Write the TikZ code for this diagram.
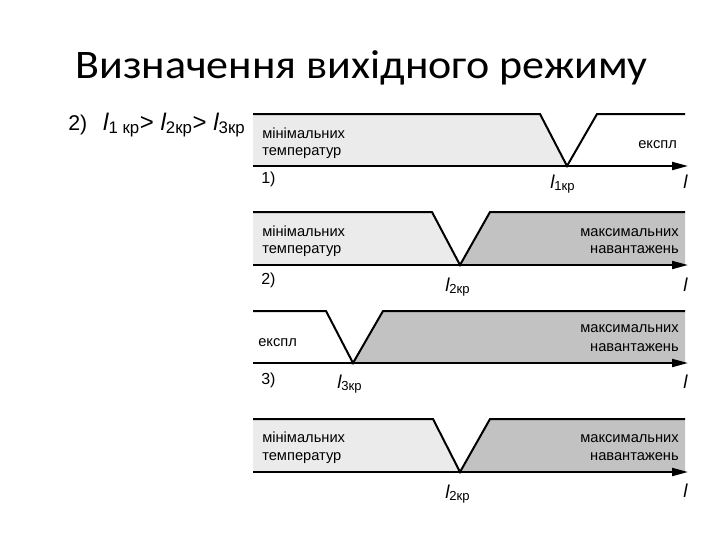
\documentclass[tikz,border=0pt]{standalone}
\usepackage{fontspec}
\setmainfont{Carlito}
\newfontfamily\arialfont{Liberation Sans}
\usetikzlibrary{arrows.meta}
\newcommand{\lkr}[1]{{\itshape l}\textsubscript{#1}}

\begin{document}
\begin{tikzpicture}[x=0.75pt,y=0.75pt,yscale=-1,xscale=1,
  topline/.style={line width=1.5},
  axisline/.style={line width=1.5,-{Triangle[length=12pt,width=6pt]}},
  lowfill/.style={fill=black!8},
  highfill/.style={fill=black!24},
  modetext/.style={inner sep=0pt,anchor=base west,font=\arialfont\fontsize{11}{12}\selectfont},
  modetextr/.style={modetext,anchor=base east},
  numtext/.style={inner sep=0pt,anchor=base west,font=\arialfont\fontsize{12}{14}\selectfont},
  crtext/.style={inner sep=0pt,anchor=base west,font=\arialfont\fontsize{14}{16}\selectfont}]
\useasboundingbox (0,0) rectangle (720,540);

% Title
\draw (75,78) node (title) [anchor=base west][inner sep=0pt] [font=\fontsize{33}{40}\selectfont] {\scalebox{1}[0.92]{Визначення вихідного режиму}};

% Header
\begin{scope}
\clip (0,100) rectangle (247,145);
\draw (68,130) node (order) [anchor=base west][inner sep=0pt] [font=\arialfont\fontsize{16}{18}\selectfont] {2)\hspace{12pt}{\fontsize{18}{20}\selectfont\lkr{1 кр}> \lkr{2кр}> \lkr{3кр}}};
\end{scope}

%Panel 1
\fill [lowfill] (253,114) -- (540,114) -- (567,166) -- (253,166) -- cycle ;
\draw [topline] (253,114) -- (540,114) -- (567,166) -- (597,114) -- (685,114) ;
\draw [axisline] (253,166) -- (688,166) ;
\draw (262,138) node (p1a) [modetext] {мінімальних};
\draw (262,155) node (p1b) [modetext] {температур};
\draw (638,148) node (p1c) [modetext] {експл};
\draw (261,183) node (p1n) [numtext] {1)};
\draw (550,188) node (p1l) [crtext] {\lkr{1кр}};
\draw (683,188) node (p1x) [crtext] {\itshape l};

%Panel 2
\fill [lowfill] (253,212) -- (432,212) -- (460,265) -- (253,265) -- cycle ;
\fill [highfill] (490,212) -- (685,212) -- (685,265) -- (460,265) -- cycle ;
\draw [topline] (253,212) -- (432,212) -- (460,265) -- (490,212) -- (685,212) ;
\draw [axisline] (253,265) -- (688,265) ;
\draw (262,236) node (p2a) [modetext] {мінімальних};
\draw (262,253) node (p2b) [modetext] {температур};
\draw (679,236) node (p2c) [modetextr] {максимальних};
\draw (679,253) node (p2d) [modetextr] {навантажень};
\draw (261,284) node (p2n) [numtext] {2)};
\draw (445,291) node (p2l) [crtext] {\lkr{2кр}};
\draw (683,291) node (p2x) [crtext] {\itshape l};

%Panel 3
\fill [highfill] (383,311) -- (685,311) -- (685,363) -- (353,363) -- cycle ;
\draw [topline] (253,311) -- (326,311) -- (353,363) -- (383,311) -- (685,311) ;
\draw [axisline] (253,363) -- (688,363) ;
\draw (258,346) node (p3a) [modetext] {експл};
\draw (679,332) node (p3c) [modetextr] {максимальних};
\draw (679,351) node (p3d) [modetextr] {навантажень};
\draw (261,384) node (p3n) [numtext] {3)};
\draw (337,388) node (p3l) [crtext] {\lkr{3кр}};
\draw (683,388) node (p3x) [crtext] {\itshape l};

%Panel 4
\fill [lowfill] (253,419) -- (433,419) -- (460,472) -- (253,472) -- cycle ;
\fill [highfill] (490,419) -- (685,419) -- (685,472) -- (460,472) -- cycle ;
\draw [topline] (253,419) -- (433,419) -- (460,472) -- (490,419) -- (685,419) ;
\draw [axisline] (253,472) -- (688,472) ;
\draw (262,442) node (p4a) [modetext] {мінімальних};
\draw (262,460) node (p4b) [modetext] {температур};
\draw (679,442) node (p4c) [modetextr] {максимальних};
\draw (679,460) node (p4d) [modetextr] {навантажень};
\draw (445,498) node (p4l) [crtext] {\lkr{2кр}};
\draw (683,497) node (p4x) [crtext] {\itshape l};

\end{tikzpicture}
\end{document}
